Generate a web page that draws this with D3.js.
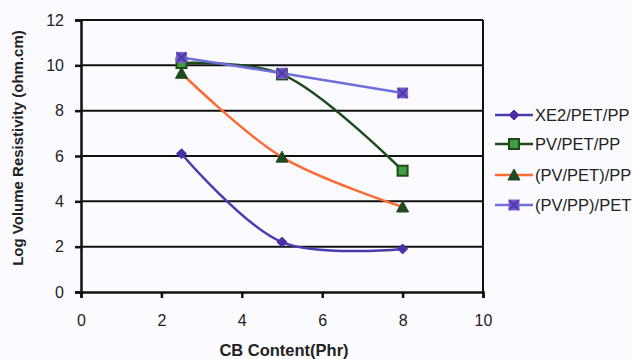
<!DOCTYPE html>
<html>
<head>
<meta charset="utf-8">
<script src="https://cdn.jsdelivr.net/npm/d3@7"></script>
<style>
  body { margin: 0; background: #fbfbff; }
  text { font-family: "Liberation Sans", Arial, sans-serif; }
</style>
</head>
<body>
<figure id="chart" style="margin:0"></figure>
<script>
const cbContent = [2.5, 5, 8];
const xe2PetPp = [6.1, 2.2, 1.9];
const pvPetPp = [10.1, 9.6, 5.35];
const pvPet_Pp = [9.65, 5.95, 3.75];
const pvPp_Pet = [10.35, 9.65, 8.78];
const xTicks = [0, 2, 4, 6, 8, 10];
const yTicks = [0, 2, 4, 6, 8, 10, 12];

const series = [
  { name: "XE2/PET/PP", values: xe2PetPp, line: "#4a3bb0", marker: "diamond", fill: "#4a2fa8", stroke: "#4a2fa8" },
  { name: "PV/PET/PP", values: pvPetPp, line: "#1f4a1f", marker: "square", fill: "#3f9f3f", stroke: "#1f4a1f" },
  { name: "(PV/PET)/PP", values: pvPet_Pp, line: "#ff6a33", marker: "triangle", fill: "#1f4a1f", stroke: "#1f4a1f" },
  { name: "(PV/PP)/PET", values: pvPp_Pet, line: "#6f6fdc", marker: "xsquare", fill: "#6a4cc8", stroke: "#6a4cc8" }
];

const width = 632, height = 359;
const margin = { top: 20, right: 149, bottom: 67, left: 81 };
const innerW = width - margin.left - margin.right;
const innerH = height - margin.top - margin.bottom;

const svg = d3.select("figure#chart")
  .append("svg")
  .attr("width", width)
  .attr("height", height);

const g = svg.append("g")
  .attr("transform", `translate(${margin.left},${margin.top})`);

const x = d3.scaleLinear().domain([0, 10]).range([0, innerW]);
const y = d3.scaleLinear().domain([0, 12]).range([innerH, 0]);

// horizontal gridlines
g.selectAll(".grid")
  .data(yTicks.filter(d => d > 0))
  .enter().append("line")
  .attr("x1", 0).attr("x2", innerW)
  .attr("y1", d => y(d)).attr("y2", d => y(d))
  .attr("stroke", "#111")
  .attr("stroke-width", 2);

// right border
g.append("line")
  .attr("x1", innerW).attr("x2", innerW)
  .attr("y1", 0).attr("y2", innerH)
  .attr("stroke", "#111").attr("stroke-width", 2);

// axes
const xAxis = g.append("g")
  .attr("transform", `translate(0,${innerH})`)
  .call(d3.axisBottom(x).tickValues(xTicks).tickSize(6).tickPadding(17));
const yAxis = g.append("g")
  .call(d3.axisLeft(y).tickValues(yTicks).tickSize(6).tickPadding(11));

[xAxis, yAxis].forEach(a => {
  a.select(".domain").attr("stroke", "#111").attr("stroke-width", 2.5);
  a.selectAll(".tick line").attr("stroke", "#111").attr("stroke-width", 2.5);
  a.selectAll(".tick text").attr("fill", "#222").style("font-size", "16px");
});

// lines
const line = d3.line()
  .x((d, i) => x(cbContent[i]))
  .y(d => y(d))
  .curve(d3.curveCatmullRom.alpha(0.5));

function drawMarker(sel, type, fill, stroke) {
  if (type === "diamond") {
    sel.append("path").attr("d", "M0,-5L5,0L0,5L-5,0Z").attr("fill", fill).attr("stroke", stroke);
  } else if (type === "square") {
    sel.append("rect").attr("x", -5).attr("y", -5).attr("width", 10).attr("height", 10)
      .attr("fill", fill).attr("stroke", stroke).attr("stroke-width", 2);
  } else if (type === "triangle") {
    sel.append("path").attr("d", "M0,-6L6,5L-6,5Z").attr("fill", fill).attr("stroke", stroke);
  } else {
    sel.append("rect").attr("x", -5).attr("y", -5).attr("width", 10).attr("height", 10)
      .attr("fill", fill).attr("stroke", "#8a6ad8").attr("stroke-width", 1);
    sel.append("path").attr("d", "M-5,-5L5,5M5,-5L-5,5").attr("stroke", "#4a3aa0").attr("stroke-width", 1.5);
  }
}

series.forEach(s => {
  g.append("path")
    .datum(s.values)
    .attr("fill", "none")
    .attr("stroke", s.line)
    .attr("stroke-width", 2.5)
    .attr("d", line);
});

series.forEach(s => {
  s.values.forEach((v, i) => {
    const m = g.append("g").attr("transform", `translate(${x(cbContent[i])},${y(v)})`);
    drawMarker(m, s.marker, s.fill, s.stroke);
  });
});

// axis titles
svg.append("text")
  .attr("x", 284)
  .attr("y", 356)
  .attr("text-anchor", "middle")
  .style("font-size", "16.5px")
  .style("font-weight", "bold")
  .attr("fill", "#222")
  .text("CB Content(Phr)");

svg.append("text")
  .attr("transform", "translate(23,148) rotate(-90)")
  .attr("text-anchor", "middle")
  .style("font-size", "15px")
  .style("font-weight", "bold")
  .attr("fill", "#222")
  .text("Log Volume Resistivity (ohm.cm)");

// legend
const legend = svg.append("g").attr("transform", "translate(495,115)");
series.forEach((s, i) => {
  const row = legend.append("g").attr("transform", `translate(0,${[0, 29, 60, 90][i]})`);
  row.append("line").attr("x1", 0).attr("x2", 38).attr("stroke", s.line).attr("stroke-width", 2.5);
  const m = row.append("g").attr("transform", "translate(19,0)");
  drawMarker(m, s.marker, s.fill, s.stroke);
  row.append("text")
    .attr("x", 40).attr("dy", "0.36em")
    .style("font-size", "16.5px")
    .attr("fill", "#222")
    .text(s.name);
});
</script>
</body>
</html>
